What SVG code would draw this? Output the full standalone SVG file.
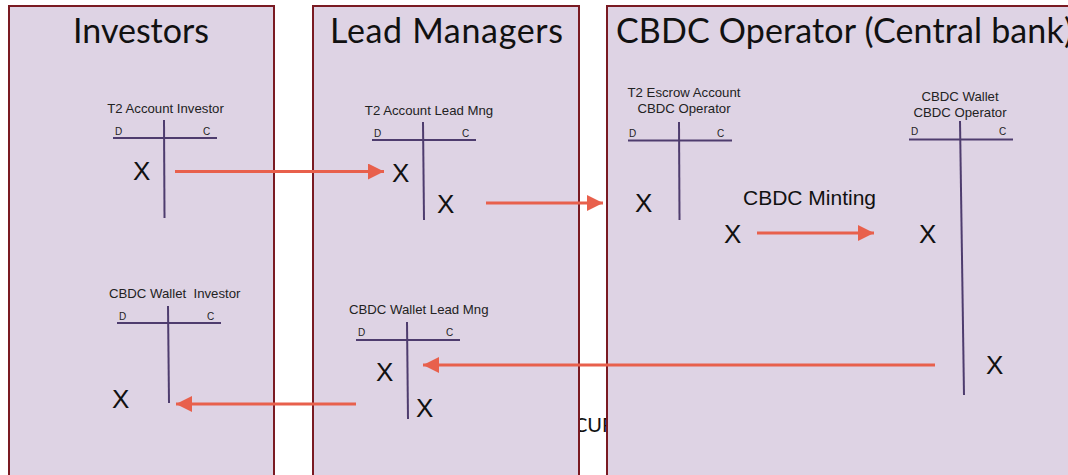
<svg xmlns="http://www.w3.org/2000/svg" width="1068" height="475" viewBox="0 0 1068 475">
<style>
.panel{fill:#DED3E4;stroke:#7A1A22;stroke-width:2}
.title{font-family:Lato,"Open Sans",sans-serif;font-size:34px;fill:#111}
.lbl{font-family:"Liberation Sans",Arial,sans-serif;font-size:13.2px;fill:#222}
.dc{font-family:"Liberation Sans",Arial,sans-serif;font-size:10px;fill:#222}
.x{font-family:"Liberation Sans",Arial,sans-serif;font-size:26px;fill:#111}
.t{stroke:#4E3C6E;stroke-width:2;fill:none}
.arr{stroke:#E8604C;stroke-width:3;fill:none;marker-end:url(#ah)}
.mint{font-family:"Liberation Sans",Arial,sans-serif;font-size:21px;fill:#111}
</style>
<defs>
<marker id="ah" markerUnits="userSpaceOnUse" markerWidth="18" markerHeight="18" refX="16" refY="8" orient="auto">
<path d="M0,0 L16,8 L0,16 Z" fill="#E8604C"/>
</marker>
</defs>
<rect width="1068" height="475" fill="#FFFFFF"/>
<text x="574" y="432" font-family="Lato,'Open Sans',sans-serif" font-size="20" fill="#111">CUR</text>
<g id="investors">
<rect class="panel" x="9" y="6" width="265" height="480"/>
<text class="title" x="73" y="43">Investors</text>
</g>
<g id="lead-managers">
<rect class="panel" x="313" y="6" width="266" height="480"/>
<text class="title" x="330" y="43" textLength="233">Lead Managers</text>
</g>
<g id="cbdc-operator">
<rect class="panel" x="607" y="6" width="470" height="480"/>
<text class="title" x="616" y="43" textLength="457">CBDC Operator (Central bank)</text>
</g>
<g id="t2-investor">
<text class="lbl" x="165.5" y="113" text-anchor="middle">T2 Account Investor</text>
<line class="t" x1="113" y1="138" x2="217" y2="138"/>
<line class="t" x1="164" y1="120" x2="164.5" y2="218"/>
<text class="dc" x="115" y="135">D</text>
<text class="dc" x="203" y="135">C</text>
<text class="x" x="133" y="180">X</text>
</g>
<g id="t2-lead">
<text class="lbl" x="429" y="115" text-anchor="middle">T2 Account Lead Mng</text>
<line class="t" x1="372" y1="140" x2="476" y2="140"/>
<line class="t" x1="423" y1="122" x2="424" y2="220"/>
<text class="dc" x="374" y="137">D</text>
<text class="dc" x="462" y="137">C</text>
<text class="x" x="392" y="182">X</text>
<text class="x" x="437" y="213">X</text>
</g>
<g id="t2-escrow">
<text class="lbl" x="684" y="97" text-anchor="middle">T2 Escrow Account</text>
<text class="lbl" x="684" y="113" text-anchor="middle">CBDC Operator</text>
<line class="t" x1="628" y1="140.5" x2="732" y2="140.5"/>
<line class="t" x1="679" y1="122" x2="679.5" y2="220"/>
<text class="dc" x="629" y="137">D</text>
<text class="dc" x="717" y="137">C</text>
<text class="x" x="635" y="212">X</text>
<text class="x" x="724" y="243">X</text>
</g>
<g id="wallet-operator">
<text class="lbl" x="960" y="101" text-anchor="middle">CBDC Wallet</text>
<text class="lbl" x="960" y="117" text-anchor="middle">CBDC Operator</text>
<line class="t" x1="909" y1="139.5" x2="1013" y2="139.5"/>
<line class="t" x1="960" y1="121" x2="964" y2="395"/>
<text class="dc" x="911" y="135">D</text>
<text class="dc" x="999" y="135">C</text>
<text class="x" x="919" y="243">X</text>
<text class="x" x="986" y="374">X</text>
</g>
<g id="wallet-investor">
<text class="lbl" x="109" y="298">CBDC Wallet&#160; Investor</text>
<line class="t" x1="117" y1="323" x2="221" y2="323"/>
<line class="t" x1="168" y1="306" x2="169" y2="403"/>
<text class="dc" x="119" y="320">D</text>
<text class="dc" x="207" y="320">C</text>
<text class="x" x="112" y="408">X</text>
</g>
<g id="wallet-lead">
<text class="lbl" x="349" y="314">CBDC Wallet Lead Mng</text>
<line class="t" x1="356" y1="340" x2="460" y2="340"/>
<line class="t" x1="407" y1="322" x2="408" y2="419"/>
<text class="dc" x="358" y="336">D</text>
<text class="dc" x="446" y="336">C</text>
<text class="x" x="376" y="381">X</text>
<text class="x" x="416" y="417">X</text>
</g>
<text class="mint" x="743" y="205">CBDC Minting</text>
<g id="connectors">
<line class="arr" x1="175" y1="171.5" x2="384" y2="171.5"/>
<line class="arr" x1="486" y1="203" x2="603" y2="203"/>
<line class="arr" x1="757" y1="233" x2="874" y2="233"/>
<line class="arr" x1="935" y1="365" x2="423" y2="365"/>
<line class="arr" x1="356" y1="404" x2="176" y2="404"/>
</g>
</svg>
